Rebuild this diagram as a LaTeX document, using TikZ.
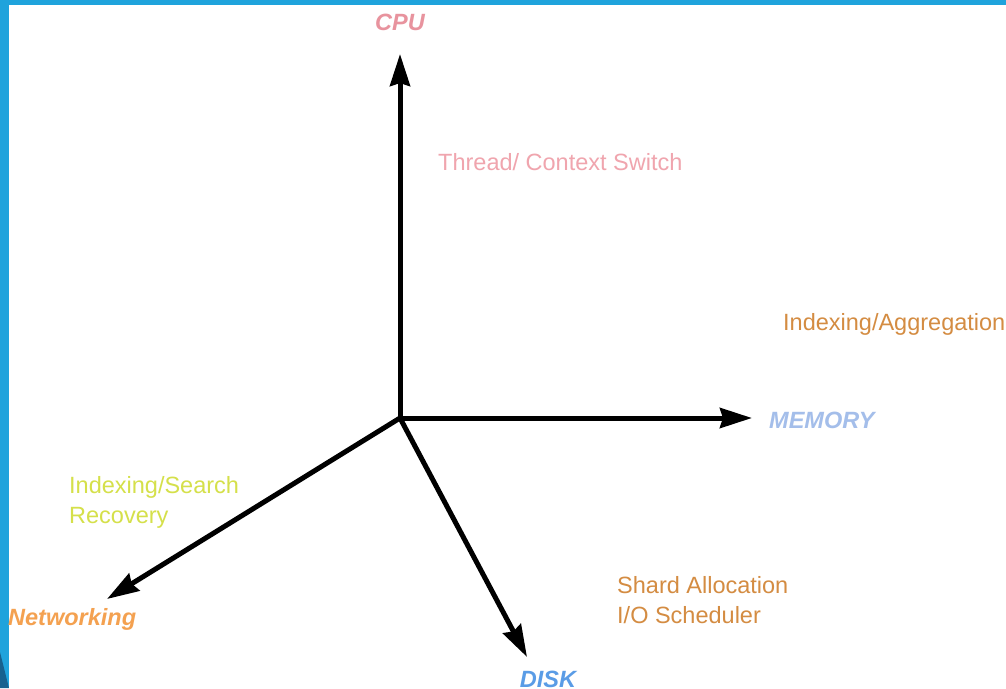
\documentclass[tikz,border=0pt]{standalone}
\usepackage{fontspec}
\setmainfont{Liberation Sans}
\usetikzlibrary{arrows.meta}

\definecolor{frameblue}{HTML}{1FA3DC}
\definecolor{framedark}{HTML}{17628F}
\definecolor{cpupink}{HTML}{E8939E}
\definecolor{threadpink}{HTML}{F0A5AE}
\definecolor{memblue}{HTML}{A4BEEA}
\definecolor{diskblue}{HTML}{5A9CE6}
\definecolor{netorange}{HTML}{F4A150}
\definecolor{workorange}{HTML}{D48C42}
\definecolor{searchgreen}{HTML}{D5E04A}

\tikzset{
  axis/.style={line width=5pt, arrows={-Stealth[length=32pt, width=20pt, inset=3pt]}},
  axislabel/.style={inner sep=0pt, font=\fontsize{23.5}{30}\selectfont\bfseries\itshape},
  worklabel/.style={inner sep=0pt, anchor=west, align=left, font=\fontsize{23.5}{30}\selectfont}
}

\begin{document}
\begin{tikzpicture}[x=1pt, y=-1pt]
\useasboundingbox (0,0) rectangle (1006,688);
\fill[white] (0,0) rectangle (1006,688);
% frame
\fill[frameblue] (0,0) rectangle (1006,5);
\fill[frameblue] (0,0) rectangle (9,688);
\fill[framedark] (0,652) -- (9,688) -- (0,688) -- cycle;

\coordinate (o) at (400,418);
\coordinate (cputip) at (400,54);
\coordinate (memtip) at (752,418);
\coordinate (nettip) at (107,599);
\coordinate (disktip) at (527,657);

\node (cpu)[axislabel, text=cpupink] at (400,22) {CPU};
\node (mem)[axislabel, text=memblue, anchor=west] at (769,420) {MEMORY};
\node (net)[axislabel, text=netorange, anchor=west] at (8,619) {Networking};
\node (disk)[axislabel, text=diskblue] at (548,679) {DISK};

\node (thread)[worklabel, text=threadpink] at (438,162) {Thread/ Context Switch};
\node (aggr)[worklabel, text=workorange] at (783,324) {Indexing/Aggregation};
\node (search)[worklabel, text=searchgreen] at (69,502) {Indexing/Search\\Recovery};
\node (shard)[worklabel, text=workorange] at (617,600) {Shard Allocation\\I/O Scheduler};

\draw[axis] (o) -- (cputip);
\draw[axis] (o) -- (memtip);
\draw[axis] (o) -- (nettip);
\draw[axis] (o) -- (disktip);
\end{tikzpicture}
\end{document}
